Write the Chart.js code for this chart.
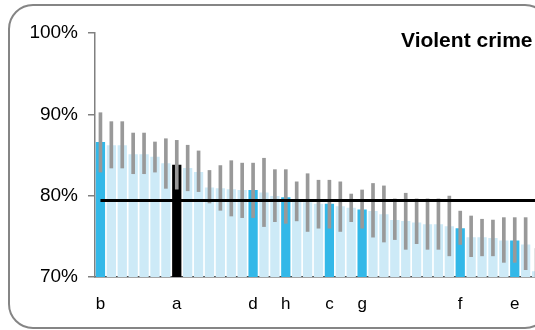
<!DOCTYPE html>
<html>
<head>
<meta charset="utf-8">
<script src="https://cdn.jsdelivr.net/npm/chart.js@4"></script>
<style>
  html, body { margin: 0; padding: 0; background: #fff; overflow: hidden; }
  #chart { display: block; }
</style>
</head>
<body>
<canvas id="chart" width="560" height="330"></canvas>
<script>
// Categories: only the named areas carry a label
const areaLabels = [
  'b', '', '', '', '', '', '', 'a', '', '', '', '', '', '', 'd', '', '', 'h', '', '', '',
  'c', '', '', 'g', '', '', '', '', '', '', '', '', 'f', '', '', '', '', 'e', '', ''
];

// Rate (%) per area
const rates = [
  86.6, 86.2, 86.2, 85.1, 85.1, 84.8, 84.0, 83.8, 83.4, 82.9, 81.0,
  80.9, 80.8, 80.7, 80.7, 80.4, 79.95, 79.8, 79.3, 79.2, 79.0,
  79.0, 78.7, 78.5, 78.3, 78.1, 77.7, 77.0, 76.9, 76.7, 76.5,
  76.5, 76.25, 76.0, 74.9, 74.9, 74.8, 74.5, 74.5, 74.0, 70.7
];

// Confidence interval bounds
const lowerBounds = [
  82.9, 83.4, 83.4, 82.7, 82.7, 82.9, 80.9, 80.8, 80.6, 80.5, 79.1,
  78.2, 77.5, 77.3, 77.3, 76.2, 76.8, 76.6, 76.9, 75.6, 76.0,
  76.0, 75.6, 76.8, 76.0, 74.9, 74.3, 74.6, 73.4, 74.1, 73.4,
  73.4, 72.6, 74.0, 72.5, 72.6, 72.6, 71.8, 71.8, 70.9, 67.5
];
const upperBounds = [
  90.2, 89.1, 89.1, 87.7, 87.7, 86.6, 87.0, 86.8, 86.2, 85.5, 83.1,
  83.7, 84.3, 84.0, 84.0, 84.6, 83.2, 83.2, 81.7, 82.7, 81.9,
  81.9, 81.7, 80.2, 80.7, 81.5, 81.2, 79.6, 80.3, 79.6, 79.6,
  79.6, 79.95, 78.1, 77.5, 77.1, 77.0, 77.3, 77.3, 77.3, 73.5
];

// Overall rate (horizontal reference line)
const overallRate = 79.4;

const yTicks = [70, 80, 90, 100];
const chartTitle = 'Violent crime';

const FONT = "'Liberation Sans', Arial, sans-serif";
const COLORS = {
  light: '#cdeaf7',
  highlight: '#33b8e8',
  selected: '#000000',
  error: '#999999',
  line: '#000000'
};

const barColors = areaLabels.map(l => l === 'a' ? COLORS.selected : (l ? COLORS.highlight : COLORS.light));

// rounded frame around the whole figure
const framePlugin = {
  id: 'frame',
  beforeDraw(chart) {
    const ctx = chart.ctx;
    ctx.save();
    ctx.strokeStyle = '#858585';
    ctx.lineWidth = 2;
    ctx.beginPath();
    ctx.roundRect(9, 5, 540, 323, 24);
    ctx.stroke();
    ctx.restore();
  }
};

// title inside the plot, top right
const titlePlugin = {
  id: 'insideTitle',
  afterDatasetsDraw(chart) {
    const ctx = chart.ctx;
    ctx.save();
    ctx.font = 'bold 21px ' + FONT;
    ctx.fillStyle = '#000';
    ctx.textAlign = 'left';
    ctx.textBaseline = 'alphabetic';
    ctx.fillText(chartTitle, 401, 47);
    ctx.restore();
  }
};

new Chart(document.getElementById('chart'), {
  data: {
    labels: areaLabels,
    datasets: [
      {
        type: 'line',
        data: areaLabels.map(() => overallRate),
        borderColor: COLORS.line,
        borderWidth: 3,
        pointRadius: 0,
        order: 0
      },
      {
        type: 'bar',
        data: lowerBounds.map((lo, i) => [lo, upperBounds[i]]),
        backgroundColor: COLORS.error,
        barThickness: 3,
        grouped: false,
        order: 1
      },
      {
        type: 'bar',
        data: rates,
        backgroundColor: barColors,
        categoryPercentage: 1,
        barPercentage: 0.85,
        order: 2
      }
    ]
  },
  options: {
    responsive: false,
    animation: false,
    layout: { padding: { top: 33, right: 18, bottom: 0, left: 0 } },
    plugins: {
      legend: { display: false },
      tooltip: { enabled: false },
      title: { display: false }
    },
    scales: {
      x: {
        grid: { display: true, drawOnChartArea: false, drawTicks: false },
        border: { display: true, color: '#4d4d4d', width: 1.5 },
        ticks: {
          autoSkip: false,
          maxRotation: 0,
          padding: 17,
          color: '#000',
          font: { family: FONT, size: 17 }
        },
        afterFit: s => { s.height = 53; }
      },
      y: {
        min: 70,
        max: 100,
        grid: { drawOnChartArea: false, drawTicks: true, tickLength: 7, color: '#808080', lineWidth: 1.5 },
        border: { display: true, color: '#808080', width: 1.5 },
        afterBuildTicks: s => { s.ticks = yTicks.map(v => ({ value: v })); },
        ticks: {
          padding: 10,
          color: '#000',
          font: { family: FONT, size: 19 },
          callback: v => v + '%'
        },
        afterFit: s => { s.width = 95; }
      }
    }
  },
  plugins: [framePlugin, titlePlugin]
});
</script>
</body>
</html>
